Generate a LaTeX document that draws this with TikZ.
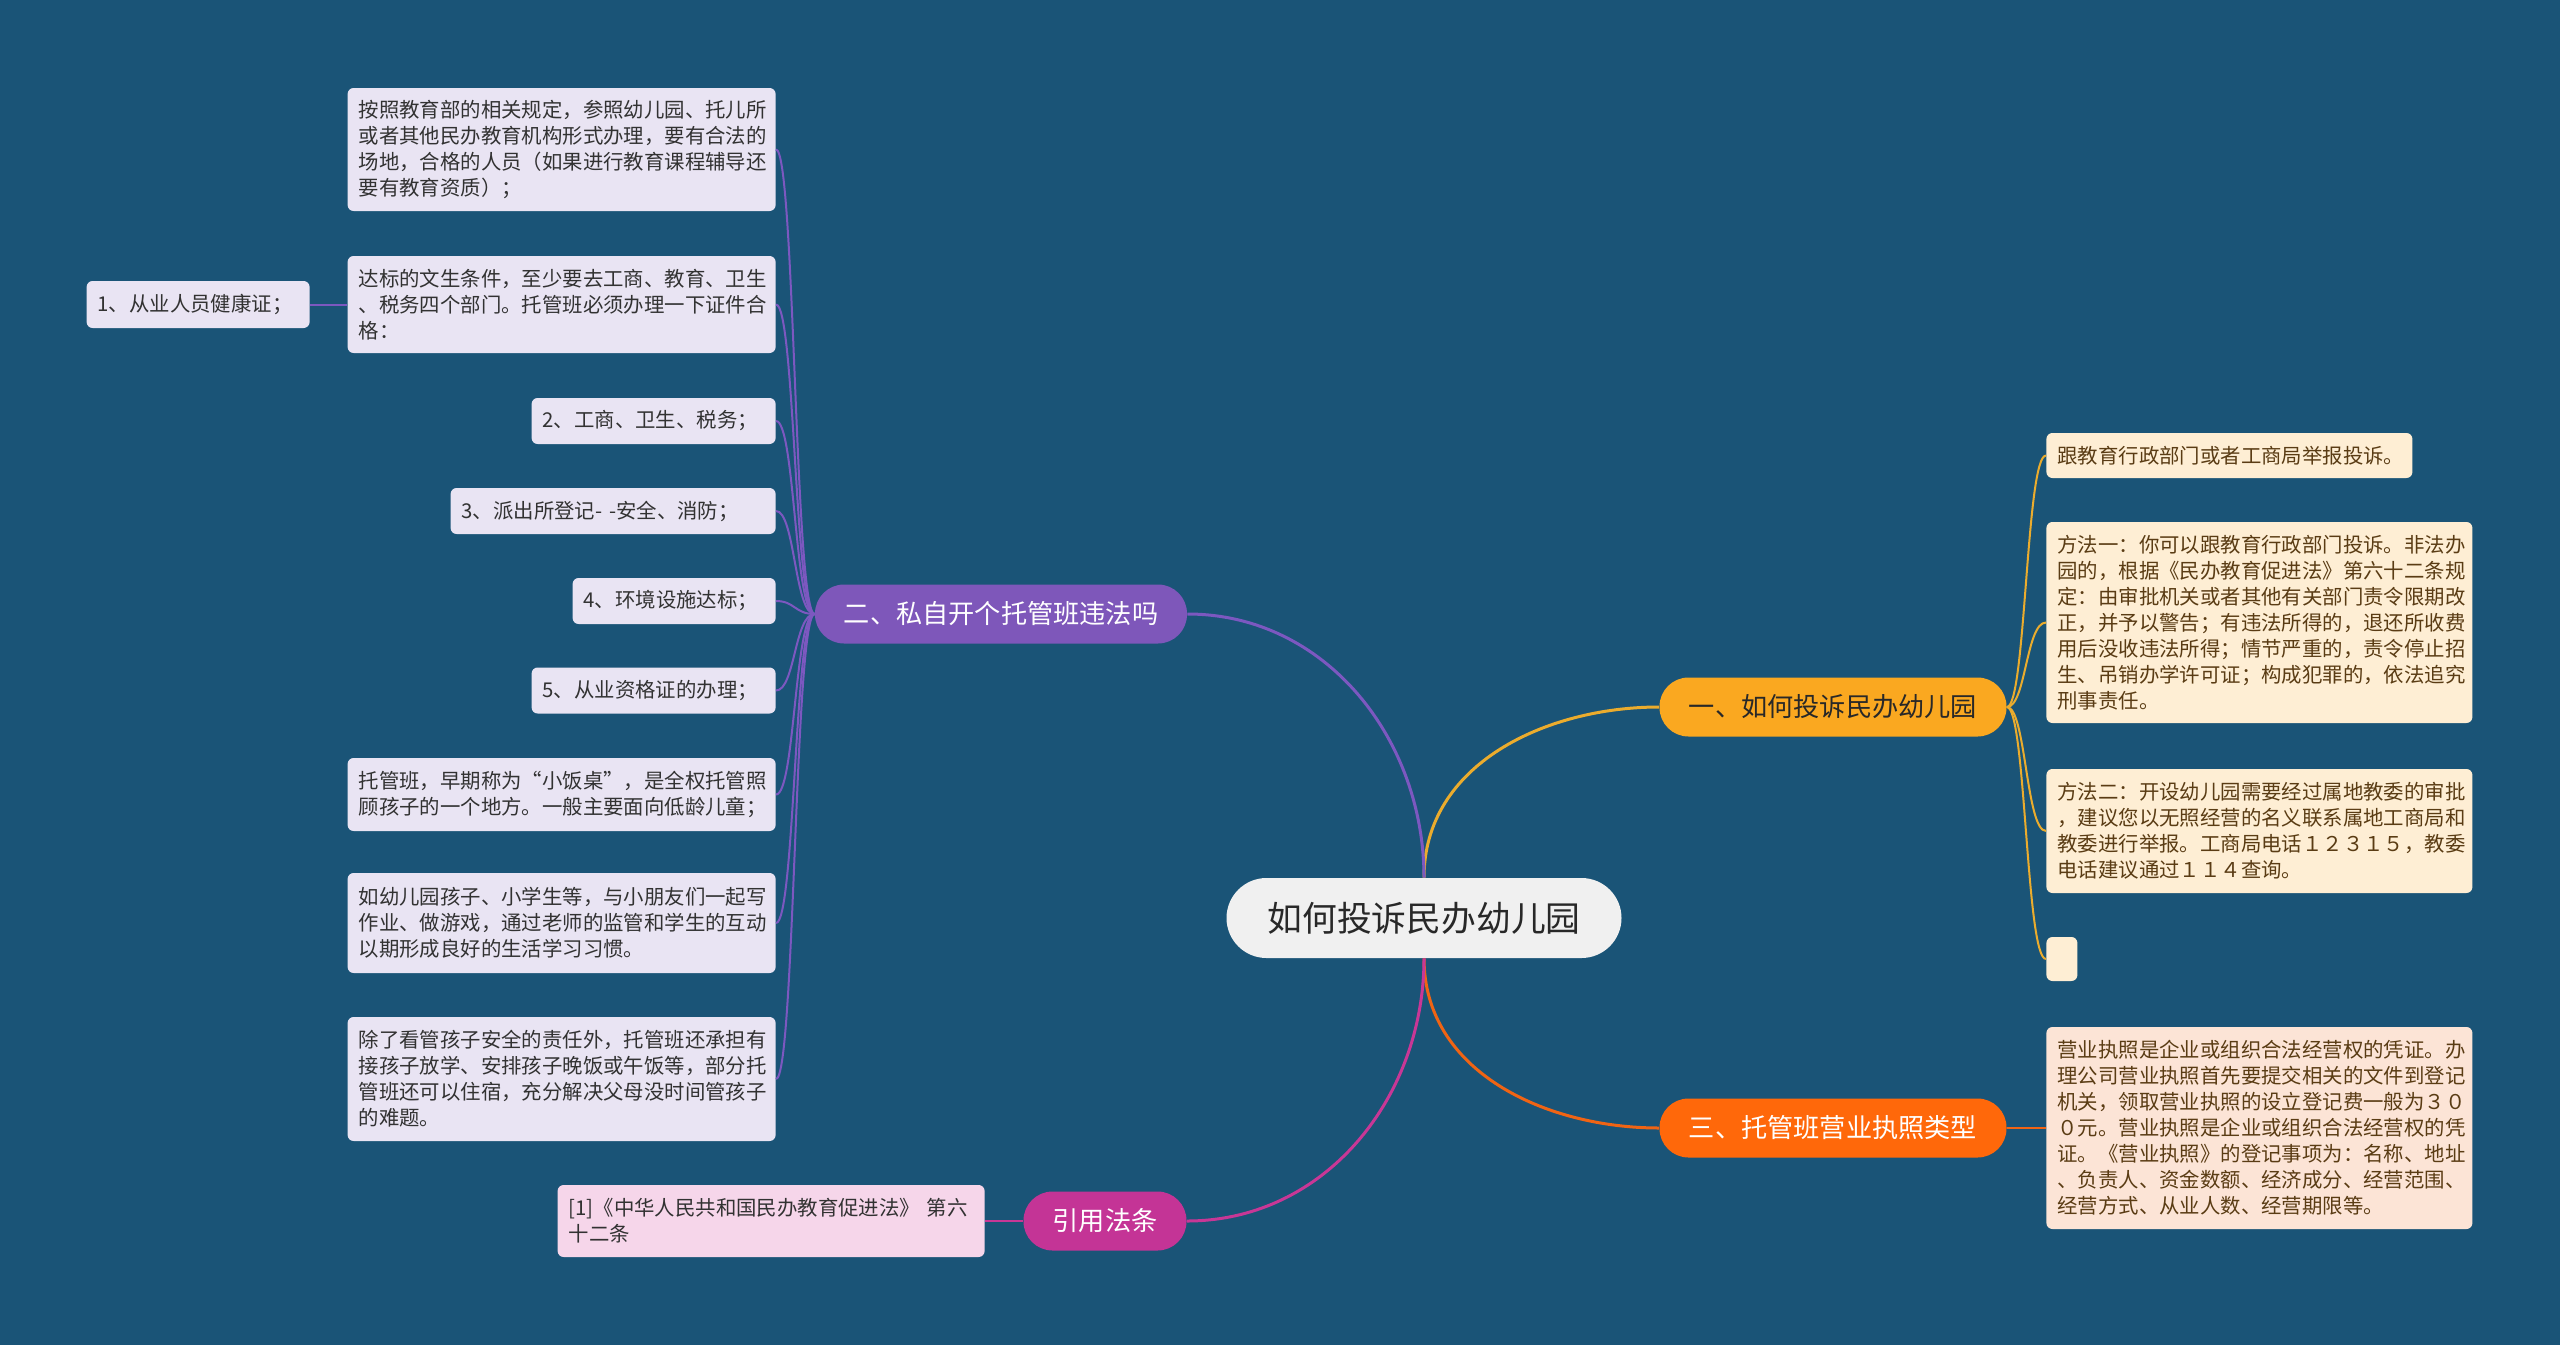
\documentclass[tikz,border=0pt]{standalone}
\usepackage{fontspec}
\setmainfont{Noto Sans CJK SC}
\usepackage{tikz}
\usetikzlibrary{positioning}
\usepackage{xcolor}

\definecolor{bgBlue}{RGB}{26,84,119}
\definecolor{rootFill}{RGB}{240,240,240}
\definecolor{rootText}{RGB}{40,40,40}
\definecolor{orangeFill}{RGB}{250,168,32}
\definecolor{purpleFill}{RGB}{126,87,186}
\definecolor{redFill}{RGB}{255,104,10}
\definecolor{magentaFill}{RGB}{196,52,150}
\definecolor{purpleLeaf}{RGB}{233,228,243}
\definecolor{creamLeaf}{RGB}{254,238,212}
\definecolor{peachLeaf}{RGB}{252,228,214}
\definecolor{pinkLeaf}{RGB}{246,214,234}
\definecolor{leafText}{RGB}{50,50,50}
\definecolor{brownText}{RGB}{90,60,20}
\definecolor{purpleLine}{RGB}{124,88,192}
\definecolor{orangeLine}{RGB}{235,172,45}
\definecolor{redLine}{RGB}{240,100,20}
\definecolor{magentaLine}{RGB}{200,55,150}

\begin{document}
\begin{tikzpicture}[x=0.5pt, y=0.5pt,
    rootnode/.style={fill=rootFill, text=rootText, rounded corners=20pt, minimum width=197.5pt,
        minimum height=40pt, inner sep=0pt, font=\fontsize{17.4pt}{20pt}\selectfont},
    branch/.style={rounded corners=14.5pt, minimum height=29.5pt, inner sep=0pt,
        font=\fontsize{13.1pt}{16pt}\selectfont},
    leaf/.style 2 args={rounded corners=3pt, inner xsep=5.5pt, inner ysep=0pt, align=left,
        text width=#1, minimum height=#2, font=\fontsize{10.2pt}{13pt}\selectfont},
    leafL/.style 2 args={leaf={#1}{#2}, fill=purpleLeaf, text=leafText, anchor=east},
    leafR/.style 2 args={leaf={#1}{#2}, fill=creamLeaf, text=brownText, anchor=west},
    mainlink/.style={line width=1.5pt},
    sublink/.style={line width=1pt}]

    % Background
    \fill[bgBlue] (0,0) rectangle (2560,-1345);

    % Root and branches
    \node[rootnode] (root) at (1424,-918) {如何投诉民办幼儿园};
    \node[branch, fill=orangeFill, text=rootText, minimum width=173.5pt] (b1) at (1833,-707) {一、如何投诉民办幼儿园};
    \node[branch, fill=purpleFill, text=white, minimum width=186pt] (b2) at (1001,-614) {二、私自开个托管班违法吗};
    \node[branch, fill=redFill, text=white, minimum width=173.5pt] (b3) at (1833,-1128) {三、托管班营业执照类型};
    \node[branch, fill=magentaFill, text=white, minimum width=81.5pt] (b4) at (1105,-1221) {引用法条};

    % Left leaves
    \node[leafL={203pt}{61.5pt}] (l1) at (776,-149.5) {按照教育部的相关规定，参照幼儿园、托儿所\\或者其他民办教育机构形式办理，要有合法的\\场地，合格的人员（如果进行教育课程辅导还\\要有教育资质）；};
    \node[leafL={203pt}{48.5pt}] (l2) at (776,-304.5) {达标的文生条件，至少要去工商、教育、卫生\\、税务四个部门。托管班必须办理一下证件合\\格：};
    \node[leafL={100.5pt}{23.5pt}] (l2a) at (310,-304.5) {1、从业人员健康证；};
    \node[leafL={111pt}{23pt}] (l3) at (776,-421) {2、工商、卫生、税务；};
    \node[leafL={151.5pt}{23pt}] (l4) at (776,-511) {3、派出所登记-~-安全、消防；};
    \node[leafL={90.5pt}{23pt}] (l5) at (776,-601) {4、环境设施达标；};
    \node[leafL={111pt}{23pt}] (l6) at (776,-690.5) {5、从业资格证的办理；};
    \node[leafL={203pt}{36.5pt}] (l7) at (776,-794.5) {托管班，早期称为“小饭桌”，是全权托管照\\顾孩子的一个地方。一般主要面向低龄儿童；};
    \node[leafL={203pt}{50pt}] (l8) at (776,-923) {如幼儿园孩子、小学生等，与小朋友们一起写\\作业、做游戏，通过老师的监管和学生的互动\\以期形成良好的生活学习习惯。};
    \node[leafL={203pt}{62pt}] (l9) at (776,-1079) {除了看管孩子安全的责任外，托管班还承担有\\接孩子放学、安排孩子晚饭或午饭等，部分托\\管班还可以住宿，充分解决父母没时间管孩子\\的难题。};
    \node[leafL={202.5pt}{36pt}, fill=pinkLeaf] (cite) at (985,-1221) {[1]《中华人民共和国民办教育促进法》~第六\\十二条};

    % Right leaves
    \node[leafR={172pt}{22.5pt}] (r1) at (2046,-455.5) {跟教育行政部门或者工商局举报投诉。};
    \node[leafR={202pt}{100.5pt}] (r2) at (2046,-622.5) {方法一：你可以跟教育行政部门投诉。非法办\\园的，根据《民办教育促进法》第六十二条规\\定：由审批机关或者其他有关部门责令限期改\\正，并予以警告；有违法所得的，退还所收费\\用后没收违法所得；情节严重的，责令停止招\\生、吊销办学许可证；构成犯罪的，依法追究\\刑事责任。};
    \node[leafR={202pt}{62pt}] (r3) at (2046,-831) {方法二：开设幼儿园需要经过属地教委的审批\\，建议您以无照经营的名义联系属地工商局和\\教委进行举报。工商局电话１２３１５，教委\\电话建议通过１１４查询。};
    \node[leafR={4.5pt}{22pt}] (r4) at (2046,-959) {};
    \node[leafR={202pt}{101pt}, fill=peachLeaf] (r5) at (2046,-1128) {营业执照是企业或组织合法经营权的凭证。办\\理公司营业执照首先要提交相关的文件到登记\\机关，领取营业执照的设立登记费一般为３０\\０元。营业执照是企业或组织合法经营权的凭\\证。《营业执照》的登记事项为：名称、地址\\、负责人、资金数额、经济成分、经营范围、\\经营方式、从业人数、经营期限等。};

    % Main links
    \draw[mainlink, orangeLine] (root.north) to[out=90, in=180] (b1.west);
    \draw[mainlink, purpleLine] (root.north) to[out=90, in=0] (b2.east);
    \draw[mainlink, redLine] (root.south) to[out=-90, in=180] (b3.west);
    \draw[mainlink, magentaLine] (root.south) to[out=-90, in=0] (b4.east);

    % Leaf links
    \foreach \n in {l1,l2,l3,l4,l5,l6,l7,l8,l9}
        \draw[sublink, purpleLine] (b2.west) .. controls +(-20,0) and +(19,0) .. (\n.east);
    \draw[sublink, purpleLine] (l2.west) -- (l2a.east);
    \foreach \n in {r1,r2,r3,r4}
        \draw[sublink, orangeLine] (b1.east) .. controls +(19,0) and +(-20,0) .. (\n.west);
    \draw[sublink, redLine] (b3.east) -- (r5.west);
    \draw[sublink, magentaLine] (b4.west) -- (cite.east);
\end{tikzpicture}
\end{document}
